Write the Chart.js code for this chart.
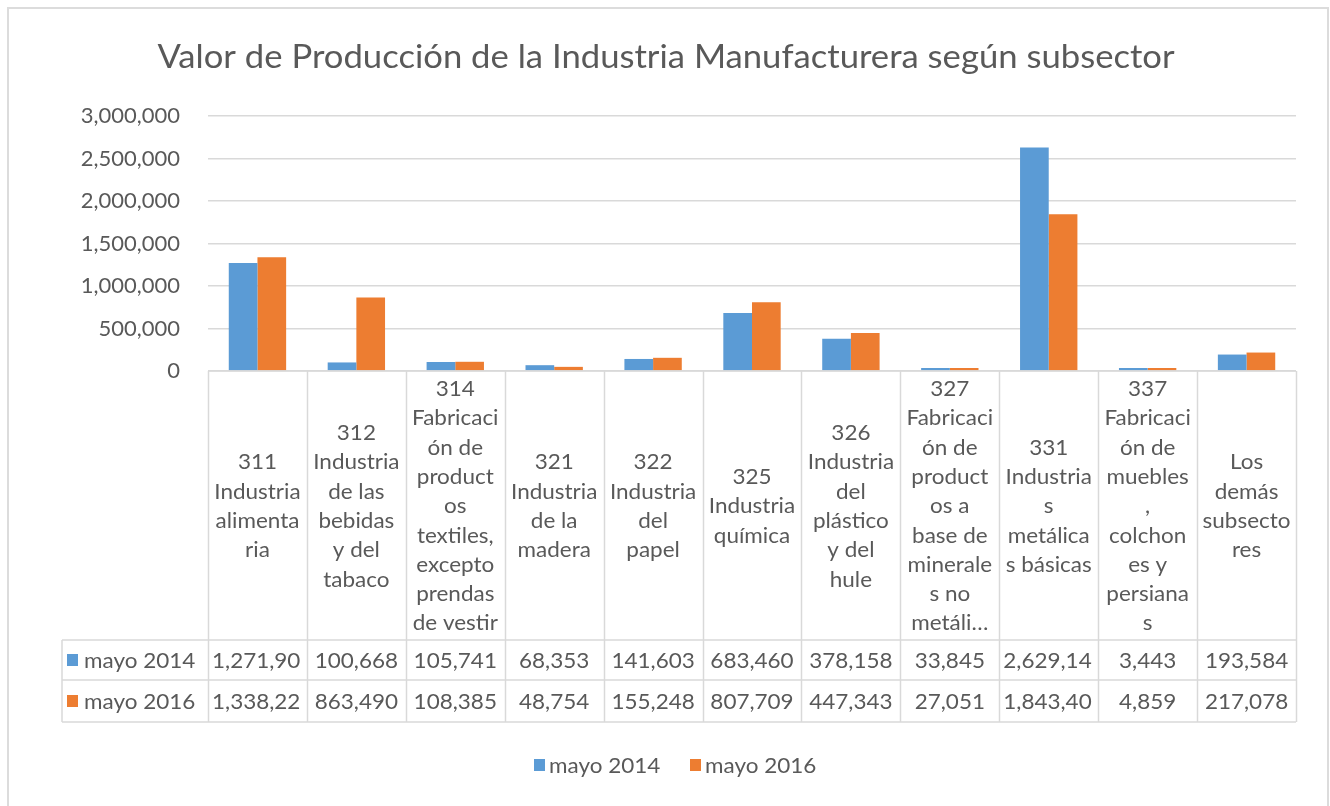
<!DOCTYPE html>
<html>
<head>
<meta charset="utf-8">
<script src="https://cdn.jsdelivr.net/npm/chart.js@4"></script>
<style>
  body { margin: 0; background: #fff; }
  #wrap { position: absolute; left: 0; top: 0; width: 1330px; height: 806px; }
</style>
</head>
<body>
<div id="wrap"><canvas id="myChart" width="1330" height="806"></canvas></div>
<script>
// data
const titleText = 'Valor de Producción de la Industria Manufacturera según subsector';
const seriesNames = ['mayo 2014', 'mayo 2016'];
const categories = ['311', '312', '314', '321', '322', '325', '326', '327', '331', '337', 'Los demás'];
const headerLines = [
  ['311', 'Industria', 'alimenta', 'ria'],
  ['312', 'Industria', 'de las', 'bebidas', 'y del', 'tabaco'],
  ['314', 'Fabricaci', 'ón de', 'product', 'os', 'textiles,', 'excepto', 'prendas', 'de vestir'],
  ['321', 'Industria', 'de la', 'madera'],
  ['322', 'Industria', 'del', 'papel'],
  ['325', 'Industria', 'química'],
  ['326', 'Industria', 'del', 'plástico', 'y del', 'hule'],
  ['327', 'Fabricaci', 'ón de', 'product', 'os a', 'base de', 'minerale', 's no', 'metáli…'],
  ['331', 'Industria', 's', 'metálica', 's básicas'],
  ['337', 'Fabricaci', 'ón de', 'muebles', ',', 'colchon', 'es y', 'persiana', 's'],
  ['Los', 'demás', 'subsecto', 'res']
];
const mayo2014 = [1271900, 100668, 105741, 68353, 141603, 683460, 378158, 33845, 2629140, 3443, 193584];
const mayo2016 = [1338220, 863490, 108385, 48754, 155248, 807709, 447343, 27051, 1843400, 4859, 217078];
const yTicks = [0, 500000, 1000000, 1500000, 2000000, 2500000, 3000000];

const BLUE = '#5B9BD5';
const ORANGE = '#ED7D31';
const TEXT = '#595959';
const LINE = '#D9D9D9';
const SX = 1.07; // text in the original is a bit wider than Lato

Chart.defaults.font.family = 'Lato, "Liberation Sans", sans-serif';

function fmt(v) { return v.toLocaleString('en-US'); }

// draw text stretched horizontally by sx
function text(ctx, s, x, y, align, sx) {
  ctx.save();
  ctx.translate(x, y);
  ctx.scale(sx, 1);
  ctx.textAlign = align;
  ctx.fillText(s, 0, 0);
  ctx.restore();
}

// frame, title, data table and legend drawn round the plot
const extras = {
  id: 'extras',
  beforeDraw(chart) {
    const ctx = chart.ctx;
    ctx.save();
    ctx.fillStyle = '#fff';
    ctx.fillRect(0, 0, chart.width, chart.height);
    ctx.strokeStyle = '#DCDCDC';
    ctx.lineWidth = 2;
    ctx.beginPath();
    ctx.moveTo(8, 820); ctx.lineTo(8, 8); ctx.lineTo(1328, 8); ctx.lineTo(1328, 820);
    ctx.stroke();
    ctx.restore();
  },
  afterDraw(chart) {
    const ctx = chart.ctx;
    const area = chart.chartArea;
    const xs = chart.scales.x;
    const n = categories.length;
    const cw = (area.right - area.left) / n;
    const top = area.bottom;
    const hdrBottom = 640, row1 = 680, row2 = 722, left = 62;

    ctx.save();
    ctx.textBaseline = 'middle';
    // title
    ctx.fillStyle = TEXT;
    ctx.font = '33px Lato';
    text(ctx, titleText, 666, 57, 'center', 1.05);

    // table grid
    ctx.strokeStyle = LINE;
    ctx.lineWidth = 1.5;
    ctx.beginPath();
    ctx.moveTo(area.left, top); ctx.lineTo(area.right, top);
    [hdrBottom, row1, row2].forEach(y => { ctx.moveTo(left, y); ctx.lineTo(area.right, y); });
    for (let i = 0; i <= n; i++) {
      const bx = Math.round(xs.getPixelForValue(i) - cw / 2) + 0.5;
      ctx.moveTo(bx, top); ctx.lineTo(bx, row2);
    }
    ctx.moveTo(left, hdrBottom); ctx.lineTo(left, row2);
    ctx.stroke();

    // header labels
    ctx.font = '21px Lato';
    ctx.fillStyle = TEXT;
    const lh = 29.3;
    const midY = (top + hdrBottom) / 2 + 1;
    headerLines.forEach((lines, i) => {
      const cx = xs.getPixelForValue(i);
      const y0 = midY - (lines.length - 1) * lh / 2;
      lines.forEach((t, k) => text(ctx, t, cx, y0 + k * lh, 'center', SX));
    });

    // value rows; numbers too wide for a cell lose their last characters
    const rows = [[mayo2014, BLUE, (hdrBottom + row1) / 2 + 1], [mayo2016, ORANGE, (row1 + row2) / 2 + 1]];
    rows.forEach(([vals, col, cy], r) => {
      ctx.fillStyle = col;
      ctx.fillRect(67, cy - 7, 11, 12);
      ctx.fillStyle = TEXT;
      text(ctx, seriesNames[r], 84, cy, 'left', SX);
      vals.forEach((v, i) => {
        const cx = xs.getPixelForValue(i);
        const x0 = cx - cw / 2;
        let s = fmt(v);
        if (ctx.measureText(s).width * SX > cw - 8) {
          while (s.length > 1 && ctx.measureText(s).width * SX > cw - 7) s = s.slice(0, -1);
          text(ctx, s, x0 + 4, cy, 'left', SX);
        } else {
          text(ctx, s, cx, cy, 'center', SX);
        }
      });
    });

    // legend
    const legendItems = [[seriesNames[0], BLUE, 534], [seriesNames[1], ORANGE, 690]];
    legendItems.forEach(([t, c, lx]) => {
      ctx.fillStyle = c;
      ctx.fillRect(lx, 759, 11, 12);
      ctx.fillStyle = TEXT;
      text(ctx, t, lx + 15, 766, 'left', SX);
    });
    ctx.restore();
  }
};

const ctx = document.getElementById('myChart');
new Chart(ctx, {
  type: 'bar',
  data: {
    labels: categories,
    datasets: [
      { label: seriesNames[0], data: mayo2014, backgroundColor: BLUE, minBarLength: 3 },
      { label: seriesNames[1], data: mayo2016, backgroundColor: ORANGE, minBarLength: 3 }
    ]
  },
  options: {
    responsive: false,
    animation: false,
    events: [],
    categoryPercentage: 0.58,
    barPercentage: 1,
    layout: { padding: { top: 116, bottom: 806 - 371, left: 0, right: 1330 - 1296 } },
    plugins: {
      legend: { display: false },
      title: { display: false },
      tooltip: { enabled: false }
    },
    scales: {
      x: { display: false },
      y: {
        min: 0,
        max: 3000000,
        afterFit(scale) { scale.width = 208; },
        afterBuildTicks(scale) { scale.ticks = yTicks.map(v => ({ value: v })); },
        border: { display: false },
        grid: { color: LINE, lineWidth: 1.5, drawTicks: false },
        ticks: {
          color: TEXT,
          font: { size: 22 },
          padding: 28,
          callback: v => fmt(v)
        }
      }
    }
  },
  plugins: [extras]
});
</script>
</body>
</html>
